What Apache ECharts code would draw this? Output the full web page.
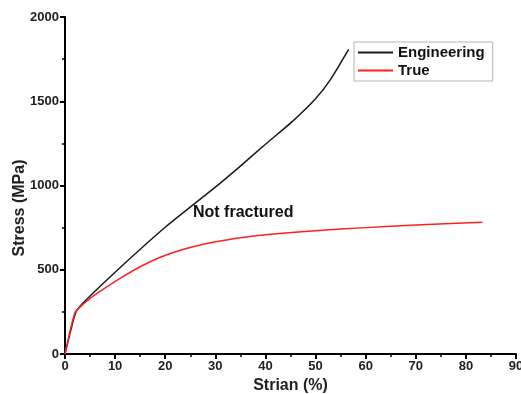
<!DOCTYPE html>
<html>
<head>
<meta charset="utf-8">
<script src="https://cdn.jsdelivr.net/npm/echarts@6/dist/echarts.min.js"></script>
<style>
  html, body { margin: 0; padding: 0; background: #fff; }
  #chart { width: 521px; height: 394px; }
</style>
</head>
<body>
<div id="chart"></div>
<script>
// Stress–strain curves: engineering vs. true stress
const strainEng = [0, 2.0, 2.9, 10, 20, 30, 35, 40, 45, 50, 53, 56.6];
const stressEng = [0, 235, 281, 485, 752, 990, 1115, 1245, 1370, 1515, 1630, 1808];

const strainTrue = [0, 1.9, 2.6, 5, 7, 11, 15, 19, 23, 27, 31, 35, 40, 50, 60, 70, 83.3];
const stressTrue = [0, 240, 268, 330, 372, 449, 518, 574, 616, 647, 670, 690, 708, 732, 750, 765, 782];

const xTicks = { min: 0, max: 90, interval: 10 };
const yTicks = { min: 0, max: 2000, interval: 500 };

const pairs = (xs, ys) => xs.map((x, i) => [x, ys[i]]);

const font = '"Liberation Sans", Arial, sans-serif';

const chart = echarts.init(document.getElementById('chart'), null, { renderer: 'canvas' });
chart.setOption({
  animation: false,
  backgroundColor: '#ffffff',
  grid: { left: 65, right: 5, top: 17, bottom: 40, containLabel: false, outerBoundsMode: 'none' },
  legend: {
    left: 354, top: 42,
    orient: 'vertical',
    icon: 'rect',
    itemWidth: 35, itemHeight: 2, itemGap: 3,
    padding: [3, 8, 3, 4],
    borderColor: '#b5b5b5', borderWidth: 1,
    textStyle: { fontFamily: font, fontWeight: 'bold', fontSize: 15, color: '#111' },
    data: ['Engineering', 'True']
  },
  xAxis: {
    type: 'value',
    min: xTicks.min, max: xTicks.max, interval: xTicks.interval,
    name: 'Strian (%)', nameLocation: 'middle', nameGap: 22,
    nameTextStyle: { fontFamily: font, fontWeight: 'bold', fontSize: 16, color: '#222' },
    axisLine: { show: true, onZero: false, lineStyle: { color: '#000', width: 2 } },
    axisTick: { show: true, inside: false, length: 5, lineStyle: { color: '#000', width: 2 } },
    minorTick: { show: true, splitNumber: 2, length: 3, lineStyle: { color: '#000', width: 1.5 } },
    axisLabel: { fontFamily: font, fontWeight: 'bold', fontSize: 13, color: '#222', margin: 6, showMaxLabel: true },
    splitLine: { show: false }
  },
  yAxis: {
    type: 'value',
    min: yTicks.min, max: yTicks.max, interval: yTicks.interval,
    axisLine: { show: true, onZero: false, lineStyle: { color: '#000', width: 2 } },
    axisTick: { show: true, inside: false, length: 5, lineStyle: { color: '#000', width: 2 } },
    minorTick: { show: true, splitNumber: 2, length: 3, lineStyle: { color: '#000', width: 1.5 } },
    axisLabel: { fontFamily: font, fontWeight: 'bold', fontSize: 13, color: '#222', margin: 6,
                 formatter: v => String(v) },
    splitLine: { show: false }
  },
  graphic: [
    {
      // y-axis title, set a little below the axis midpoint
      type: 'text',
      x: 20, y: 208, rotation: Math.PI / 2,
      style: { text: 'Stress (MPa)', fontFamily: font, fontWeight: 'bold', fontSize: 16, fill: '#222',
               align: 'center', verticalAlign: 'middle' }
    },
    {
      type: 'text',
      left: 193, top: 205,
      style: { text: 'Not fractured', fontFamily: font, fontWeight: 'bold', fontSize: 16, fill: '#111' }
    }
  ],
  series: [
    {
      name: 'Engineering', type: 'line', smooth: 0.2, symbol: 'none',
      lineStyle: { color: '#1a1a1a', width: 1.5 },
      itemStyle: { color: '#1a1a1a' },
      data: pairs(strainEng, stressEng)
    },
    {
      name: 'True', type: 'line', smooth: 0.3, symbol: 'none',
      lineStyle: { color: '#ff2020', width: 1.5 },
      itemStyle: { color: '#ff2020' },
      data: pairs(strainTrue, stressTrue)
    }
  ]
});
</script>
</body>
</html>
